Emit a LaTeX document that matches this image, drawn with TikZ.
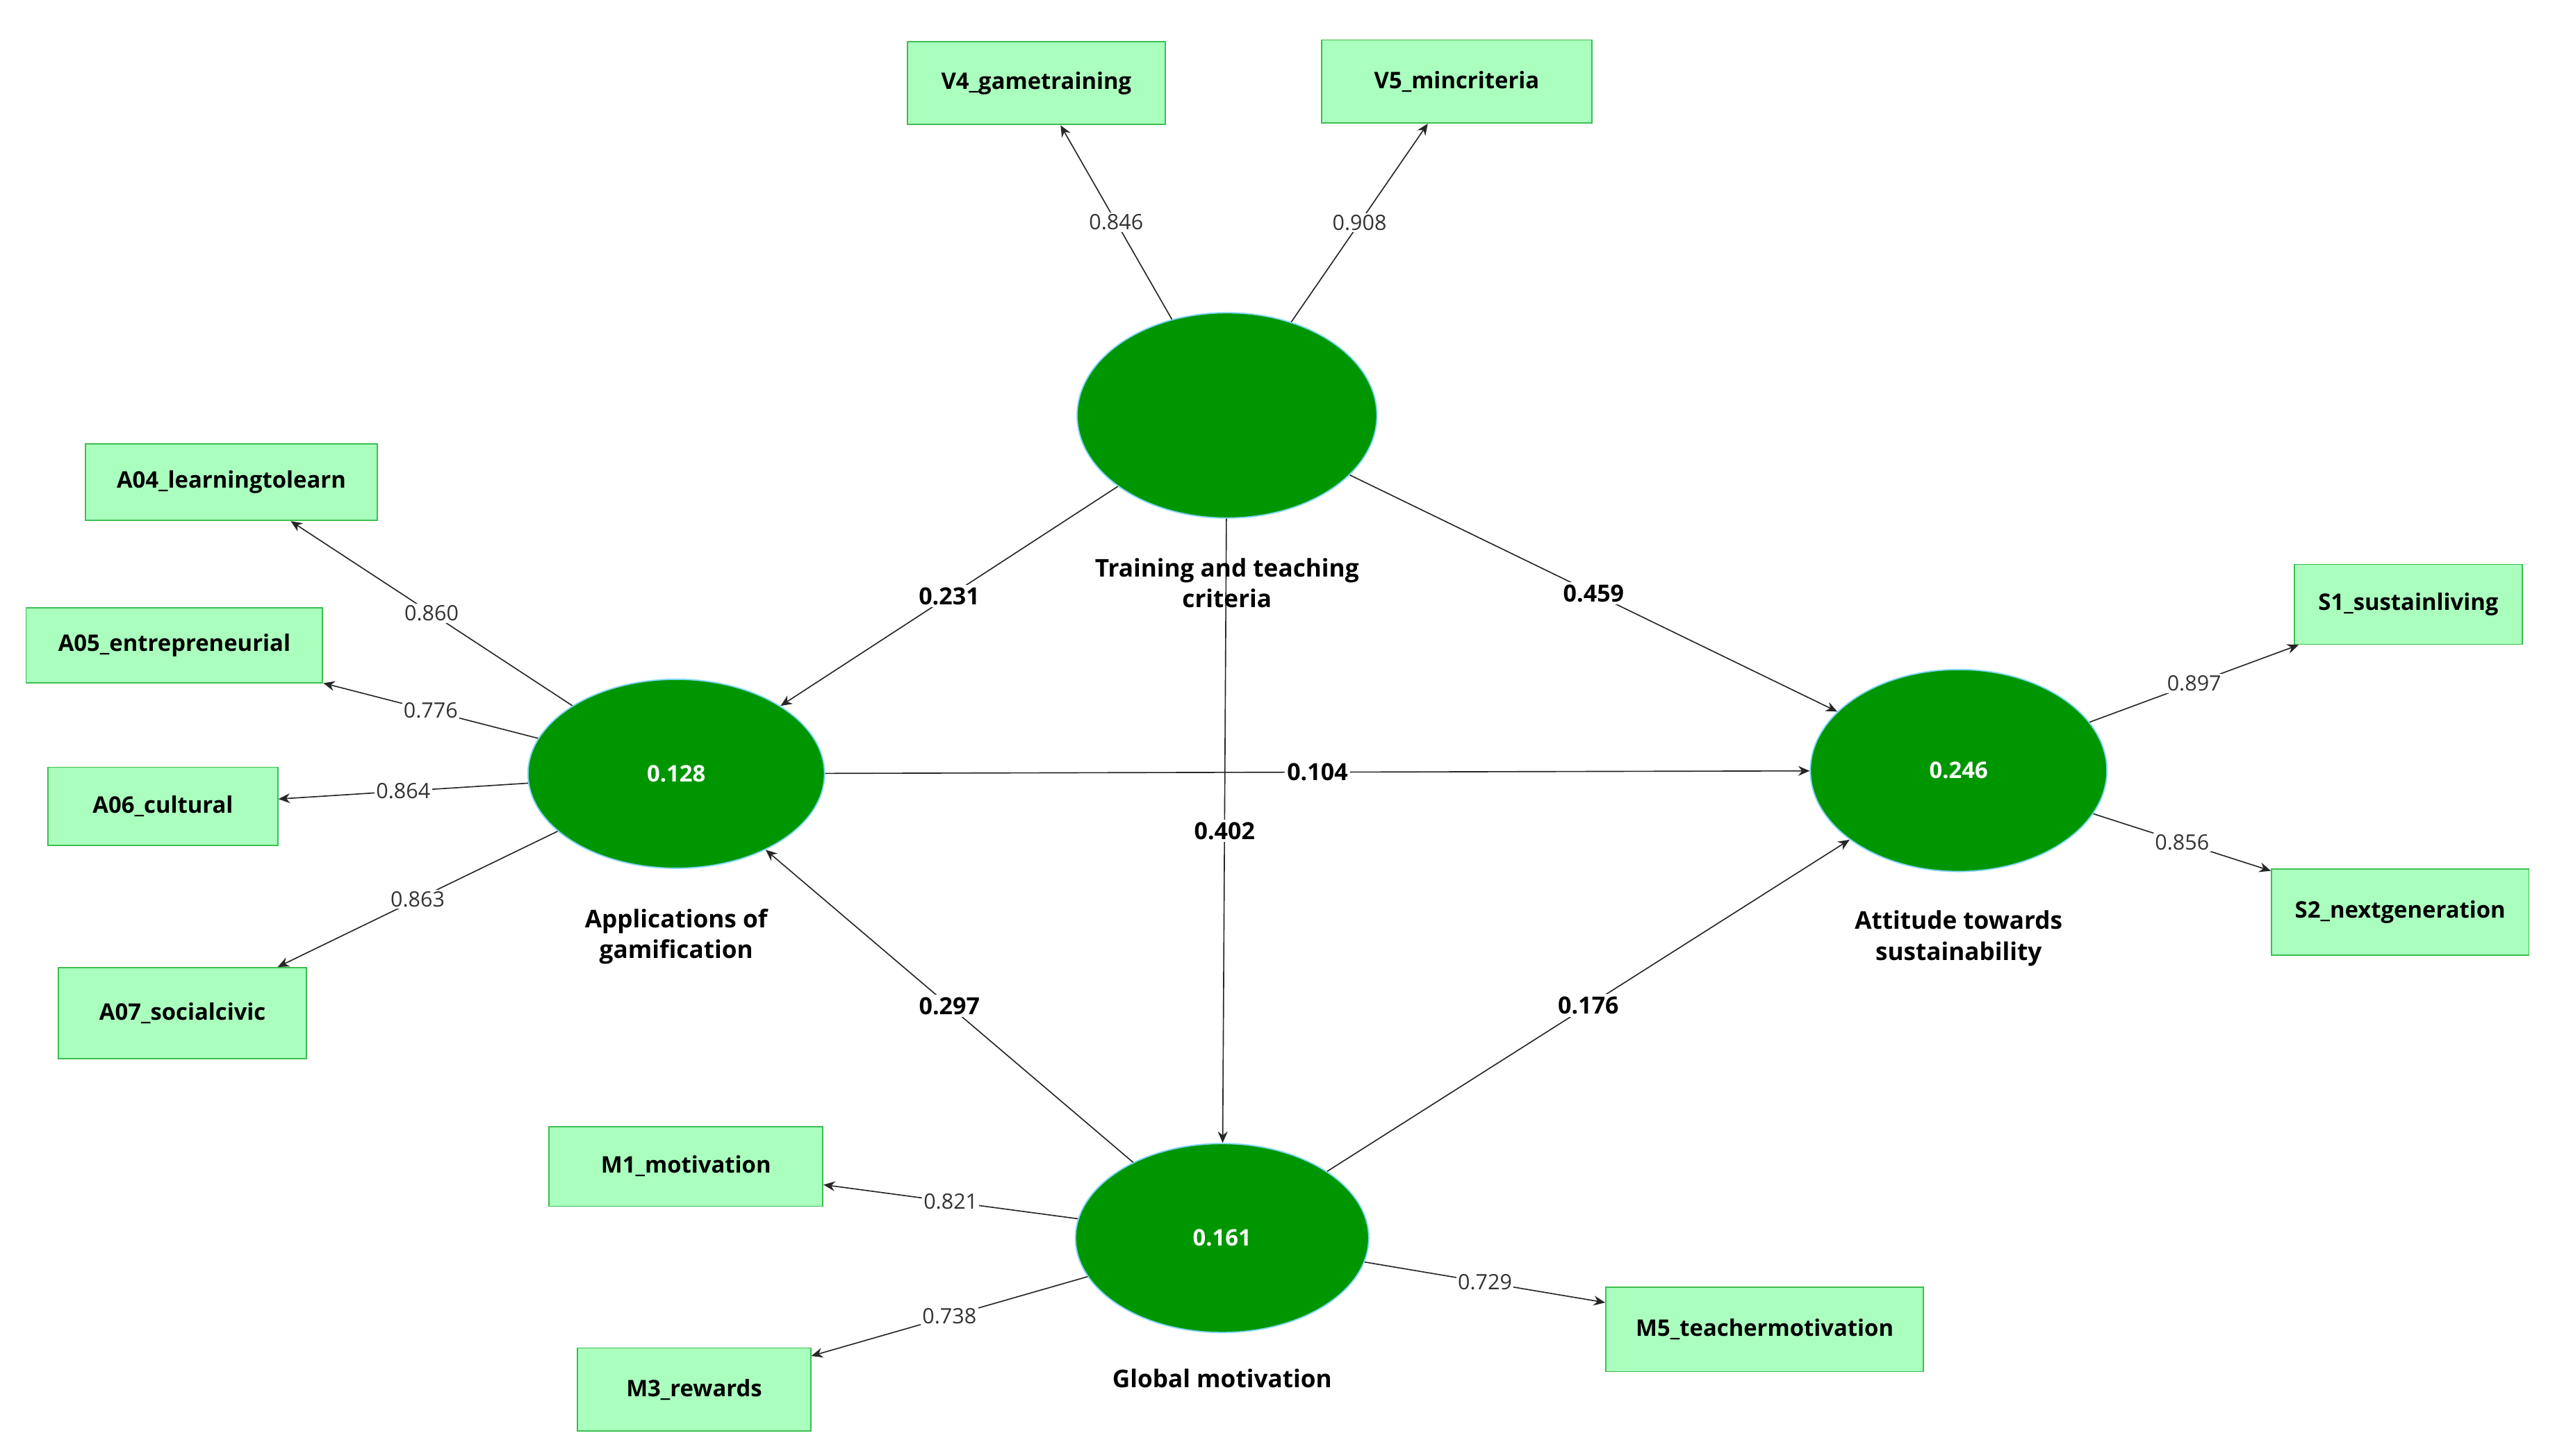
\documentclass[tikz,border=0pt]{standalone}
\usepackage{fontspec}
\setmainfont{Open Sans}
\usetikzlibrary{arrows.meta,shapes.geometric}
\definecolor{lv}{RGB}{0,150,0}
\definecolor{bx}{RGB}{170,255,190}
\definecolor{bd}{RGB}{60,190,80}
\begin{document}
\begin{tikzpicture}[x=1pt,y=-1pt,
 lv/.style={ellipse,fill=lv,draw=cyan!50,line width=0.8pt,minimum width=#1,text=white,font=\fontsize{14}{16}\selectfont\bfseries},
 bx/.style={draw=bd,fill=bx,line width=0.8pt,font=\fontsize{14}{16}\selectfont\bfseries,inner sep=0pt},
 ln/.style={draw=black!85,line width=0.7pt,-{Stealth[length=7pt,width=6pt]}},
 ld/.style={fill=white,inner sep=1pt,font=\fontsize{13}{15}\selectfont,text=black!80},
 pc/.style={fill=white,inner sep=1.5pt,font=\fontsize{14.5}{16}\selectfont\bfseries},
 tl/.style={align=center,font=\fontsize{15}{19}\selectfont\bfseries}]
\useasboundingbox (0,0) rectangle (1568,893.4);
\node[lv=184pt,minimum height=126pt] (tr) at (753,255) {};
\node[lv=182pt,minimum height=116pt] (ap) at (415,475) {0.128};
\node[lv=182pt,minimum height=124pt] (at) at (1202,473) {0.246};
\node[lv=180pt,minimum height=116pt] (gm) at (750,760) {0.161};
\node[bx,minimum width=158pt,minimum height=51pt] (v4) at (636,51) {V4\_gametraining};
\node[bx,minimum width=166pt,minimum height=51pt] (v5) at (894,50) {V5\_mincriteria};
\node[bx,minimum width=179pt,minimum height=47pt] (a4) at (142,296) {A04\_learningtolearn};
\node[bx,minimum width=182pt,minimum height=46pt] (a5) at (107,396) {A05\_entrepreneurial};
\node[bx,minimum width=141pt,minimum height=48pt] (a6) at (100,495) {A06\_cultural};
\node[bx,minimum width=152pt,minimum height=56pt] (a7) at (112,622) {A07\_socialcivic};
\node[bx,minimum width=140pt,minimum height=49pt] (s1) at (1478,371) {S1\_sustainliving};
\node[bx,minimum width=158pt,minimum height=53pt] (s2) at (1473,560) {S2\_nextgeneration};
\node[bx,minimum width=168pt,minimum height=49pt] (m1) at (421,716) {M1\_motivation};
\node[bx,minimum width=143pt,minimum height=51pt] (m3) at (426,853) {M3\_rewards};
\node[bx,minimum width=195pt,minimum height=52pt] (m5) at (1083,816) {M5\_teachermotivation};
% structural paths
\draw[ln] (tr) -- node[pc,pos=0.5]{0.231} (ap);
\draw[ln] (tr) -- node[pc,pos=0.5]{0.459} (at);
\draw[ln] (ap) -- node[pc,pos=0.5]{0.104} (at);
\draw[ln] (tr) -- node[pc,pos=0.5]{0.402} (gm);
\draw[ln] (gm) -- node[pc,pos=0.5]{0.297} (ap);
\draw[ln] (gm) -- node[pc,pos=0.5]{0.176} (at);
% loadings
\draw[ln] (tr) -- node[ld]{0.846} (v4);
\draw[ln] (tr) -- node[ld]{0.908} (v5);
\draw[ln] (ap) -- node[ld]{0.860} (a4);
\draw[ln] (ap) -- node[ld]{0.776} (a5);
\draw[ln] (ap) -- node[ld]{0.864} (a6);
\draw[ln] (ap) -- node[ld]{0.863} (a7);
\draw[ln] (at) -- node[ld]{0.897} (s1);
\draw[ln] (at) -- node[ld]{0.856} (s2);
\draw[ln] (gm) -- node[ld]{0.821} (m1);
\draw[ln] (gm) -- node[ld]{0.738} (m3);
\draw[ln] (gm) -- node[ld]{0.729} (m5);
% titles
\node[tl] (ttr) at (753,358) {Training and teaching\\criteria};
\node[tl] (tap) at (415,575) {Applications of\\gamification};
\node[tl] (tat) at (1202,576) {Attitude towards\\sustainability};
\node[tl] (tgm) at (750,846) {Global motivation};
\end{tikzpicture}
\end{document}
